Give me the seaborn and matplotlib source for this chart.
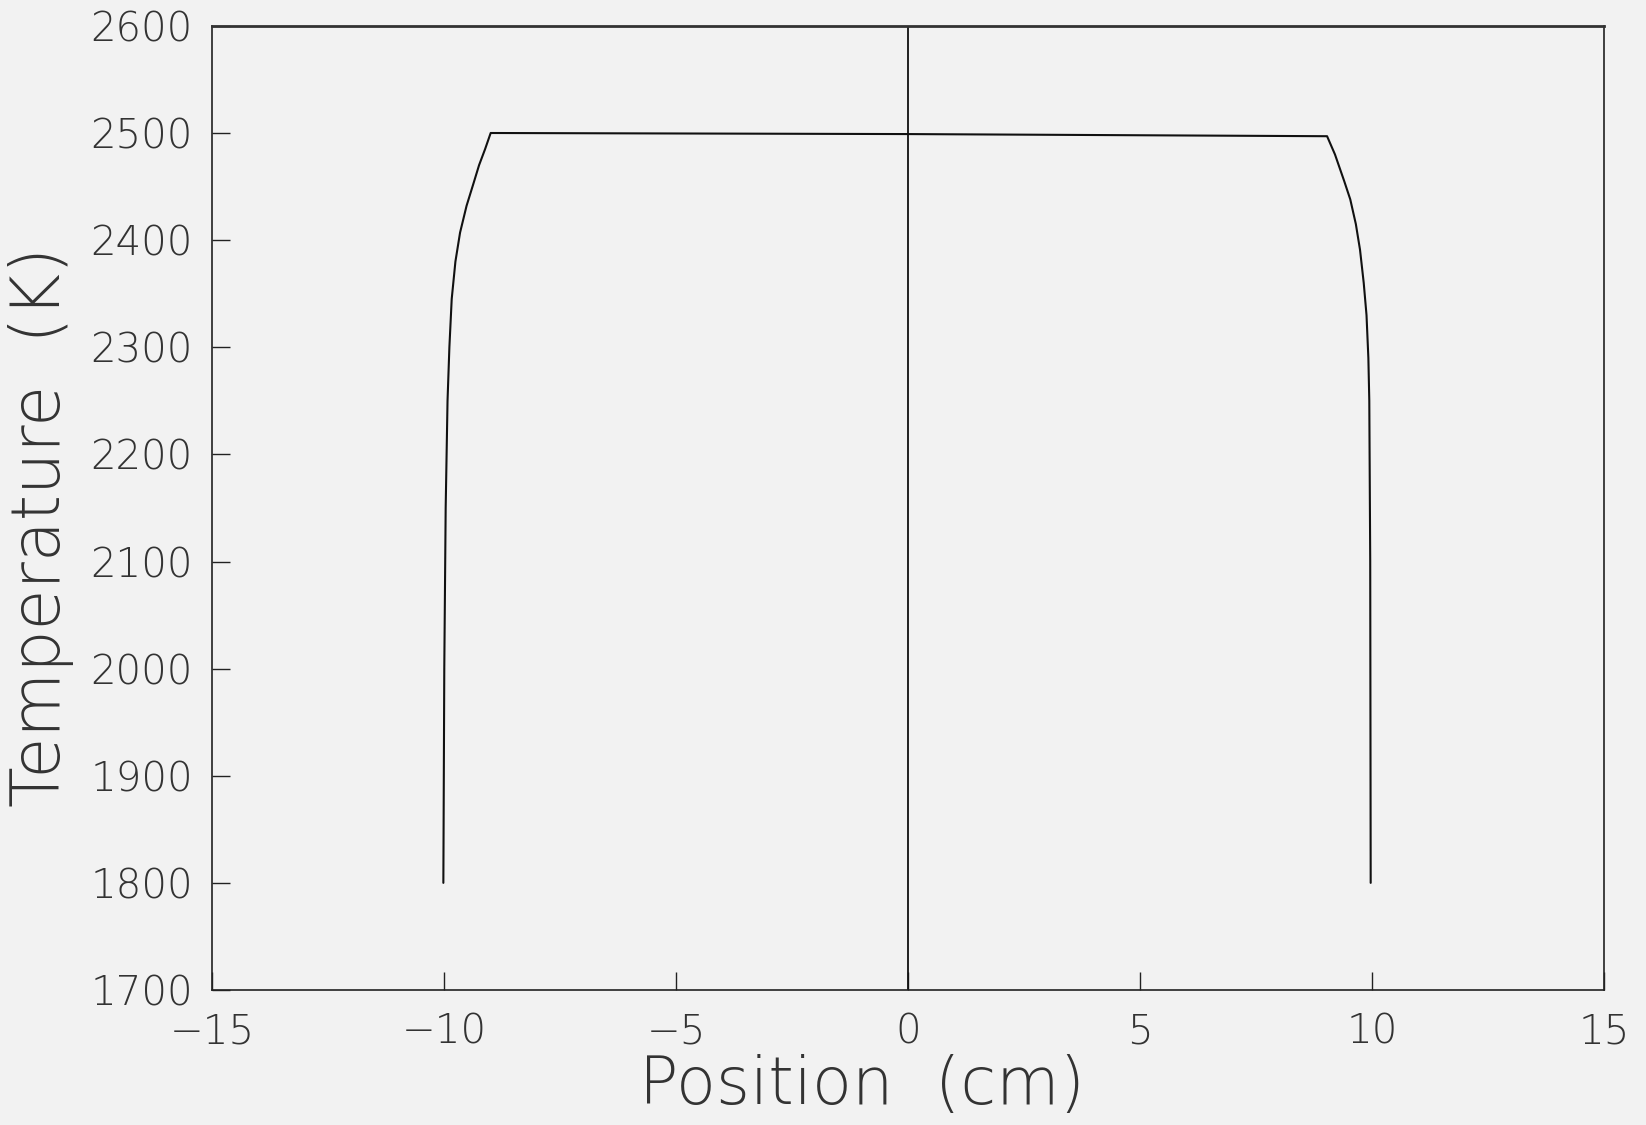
import matplotlib
matplotlib.use("Agg")
import matplotlib.pyplot as plt
import pandas as pd
import seaborn as sns

# temperature profile
position_cm = [-10.02, -10.0, -9.97, -9.93, -9.89, -9.84, -9.76, -9.66, -9.52, -9.37, -9.25, -9.12, -9.0,
               0.0, 9.03, 9.2, 9.4, 9.53, 9.65, 9.74, 9.82, 9.88, 9.92, 9.94, 9.96, 9.97]
temperature_k = [1800, 2000, 2150, 2250, 2300, 2345, 2380, 2407, 2432, 2453, 2470, 2485, 2500,
                 2499, 2497, 2480, 2455, 2438, 2415, 2391, 2360, 2330, 2290, 2250, 2100, 1800]
x_ticks = [-15, -10, -5, 0, 5, 10, 15]
y_ticks = [1700, 1800, 1900, 2000, 2100, 2200, 2300, 2400, 2500, 2600]

df = pd.DataFrame({"Position": position_cm, "Temperature": temperature_k})

sns.set_style("ticks")
plt.rcParams["font.family"] = ["DejaVu Sans"]
bg = "#f2f2f2"

fig = plt.figure(figsize=(16.46, 11.25), dpi=100, facecolor=bg)
ax = fig.add_axes([0.129, 0.12, 0.8455, 0.857])
ax.set_facecolor(bg)

sns.lineplot(data=df, x="Position", y="Temperature", sort=False, color="#111111",
             linewidth=1.5, ax=ax)
ax.axvline(0, color="#111111", linewidth=1.3)

ax.set_xlim(-15, 15)
ax.set_ylim(1700, 2600)
ax.set_xticks(x_ticks)
ax.set_yticks(y_ticks)
ax.tick_params(direction="in", length=13, width=1.0, colors="#222222",
               labelsize=29, labelcolor="#333333")
ax.tick_params(axis="x", pad=16)
ax.tick_params(axis="y", pad=14)
for lab in ax.get_xticklabels() + ax.get_yticklabels():
    lab.set_fontweight("light")

for side in ["left", "right", "bottom"]:
    ax.spines[side].set_linewidth(1.2)
    ax.spines[side].set_color("#222222")
ax.spines["top"].set_linewidth(2.0)
ax.spines["top"].set_color("#333333")

ax.set_xlabel("Position  (cm)", fontsize=47, color="#333333", fontweight="light", va="center")
ax.set_ylabel("Temperature  (K)", fontsize=48, color="#333333", fontweight="light", va="center")
ax.xaxis.set_label_coords(0.467, -0.1)
ax.yaxis.set_label_coords(-0.123, 0.48)

fig.savefig("out.png", dpi=100, facecolor=bg)
